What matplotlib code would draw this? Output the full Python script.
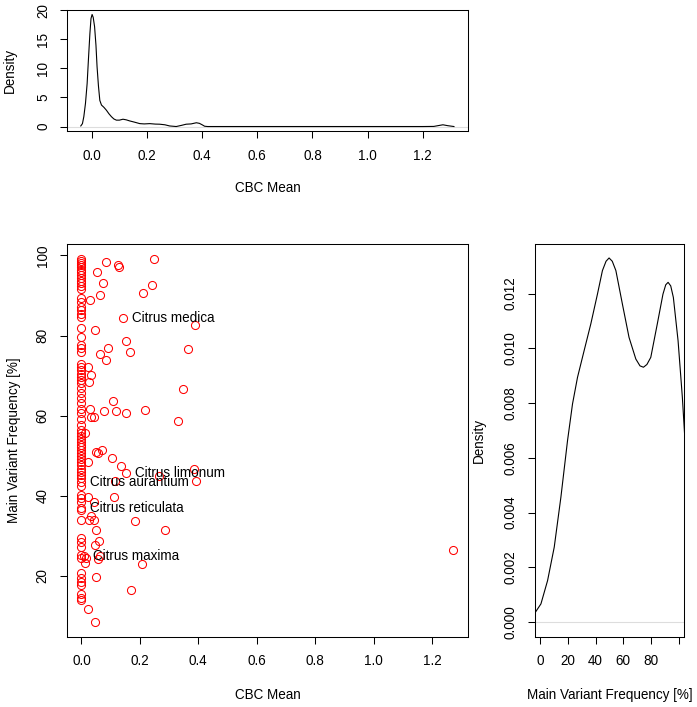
import matplotlib
matplotlib.use("Agg")
import matplotlib.pyplot as plt

plt.rcParams['font.family'] = ['Liberation Sans', 'DejaVu Sans']
plt.rcParams['font.size'] = 9.75

# CBC mean vs main variant frequency
cbc = [0, 0, 0, 0, 0, 0, 0, 0, 0, 0, 0, 0, 0,
       0, 0, 0, 0, 0, 0, 0, 0, 0, 0, 0,
       0, 0, 0, 0, 0, 0, 0, 0, 0, 0, 0, 0, 0, 0,
       0, 0, 0, 0, 0,
       0, 0, 0, 0, 0, 0, 0, 0, 0, 0, 0, 0, 0, 0,
       0, 0, 0, 0, 0, 0, 0, 0, 0, 0, 0, 0, 0, 0, 0, 0, 0,
       0.085, 0.124, 0.127, 0.25, 0.054, 0.074, 0.241, 0.063, 0.21, 0.031,
       0.39, 0.048, 0.154, 0.091, 0.166, 0.365, 0.063, 0.085, 0.022, 0.034,
       0.025, 0.348, 0.108, 0.029, 0.076, 0.119, 0.151, 0.218, 0.332, 0.034,
       0.042, 0.014, 0.051, 0.056, 0.072, 0.103, 0.023, 0.134, 0.266, 0.385,
       0.391, 0.116, 0.023, 0.042, 0.111, 0.033, 0.026, 0.042, 0.185, 0.285,
       0.051, 0.061, 0.045, 0.017, 0.057, 0.063, 0.012, 0.208, 0.051, 0.171,
       0.022, 0.045, 1.273]
mvf = [99.2, 98.7, 98.2, 97.6, 97.0, 96.4, 95.8, 95.1, 94.4, 93.7, 93.0, 92.3, 91.6,
       89.3, 88.3, 87.1, 86.3, 85.5, 84.6, 81.8, 79.7, 77.6, 76.8, 75.9,
       73.0, 72.2, 71.4, 70.5, 69.7, 68.9, 68.1, 66.8, 65.6, 64.3, 63.1, 61.8, 60.6, 59.3,
       57.8, 56.5, 55.7, 55.0, 54.3,
       53.5, 52.8, 52.1, 51.4, 50.7, 50.0, 49.2, 48.4, 47.6, 46.8, 46.0, 45.2, 44.4, 42.5,
       40.2, 39.4, 38.5, 36.5, 34.0, 29.4, 28.6, 27.2, 25.2, 24.4, 20.7, 19.6, 18.6, 17.8, 15.5, 14.6, 14.0,
       98.4, 97.7, 97.1, 99.2, 95.9, 93.2, 92.6, 90.2, 90.5, 88.8,
       82.6, 81.3, 78.7, 77.0, 75.9, 76.6, 75.4, 74.0, 72.2, 70.1,
       68.3, 66.6, 63.7, 61.8, 61.2, 61.1, 60.6, 61.4, 58.7, 59.6,
       59.6, 55.7, 51.0, 50.8, 51.4, 49.4, 48.4, 47.5, 44.9, 46.6,
       43.6, 43.8, 39.6, 38.5, 39.6, 35.0, 34.0, 34.0, 33.8, 31.6,
       31.5, 28.7, 27.7, 24.4, 24.2, 25.0, 23.3, 23.1, 19.8, 16.4,
       11.8, 8.5, 26.5]

species = ["Citrus medica", "Citrus limonum", "Citrus aurantium", "Citrus reticulata", "Citrus maxima"]
species_cbc = [0.143, 0.151, 0.0, 0.0, 0.008]
species_mvf = [84.3, 45.8, 43.4, 36.9, 25.1]

# density of CBC mean (top panel)
dens_cbc_x = [-0.040, -0.034, -0.029, -0.023, -0.017, -0.012, -0.007, -0.003, 0.001, 0.005,
              0.010, 0.015, 0.019, 0.024, 0.029, 0.035, 0.044, 0.053, 0.062,
              0.071, 0.080, 0.089, 0.100, 0.113, 0.125, 0.137, 0.155, 0.174, 0.19, 0.21, 0.23,
              0.246, 0.265, 0.282, 0.306, 0.325, 0.342, 0.36,
              0.379, 0.39, 0.40, 0.409, 0.42, 0.45, 0.6, 0.8, 1.0, 1.2, 1.24, 1.255, 1.273,
              1.29, 1.313]
dens_cbc_y = [0.1, 0.5, 1.7, 4.0, 7.4, 11.8, 16.0, 18.6, 19.3, 18.8,
              17.2, 14.0, 10.3, 7.0, 4.5, 3.7, 3.3, 2.8, 2.2,
              1.7, 1.3, 1.1, 1.1, 1.26, 1.15, 0.97, 0.75, 0.5, 0.45, 0.5, 0.42,
              0.4, 0.3, 0.1, 0.0, 0.2, 0.4, 0.45,
              0.65, 0.55, 0.3, 0.05, 0.0, 0.0, 0.0, 0.0, 0.0, 0.0, 0.02, 0.15, 0.3,
              0.15, 0.0]

# density of main variant frequency (right panel)
dens_mvf_x = [-6.0, -4.3, 0.5, 5.3, 10.1, 14.9, 19.7, 23.3, 26.9, 31.7, 36.5,
              41.3, 44.9, 47.5, 49.7, 52.0, 54.6, 59.3, 64.1, 69.0, 72.0, 74.5, 77.0, 79.8,
              84.5, 88.6, 90.6, 92.3, 94.2, 96.1, 99.5, 102.6, 104.5, 106.0]
dens_mvf_y = [0.0002, 0.000303, 0.000668, 0.00152, 0.00274, 0.00456, 0.00663, 0.00797, 0.00894, 0.00992, 0.01089,
              0.01198, 0.01284, 0.01318, 0.0133, 0.01318, 0.01284, 0.01162, 0.0104, 0.00961, 0.00936, 0.00931, 0.00941, 0.00967,
              0.01089, 0.01198, 0.01232, 0.01241, 0.01228, 0.01186, 0.01028, 0.00821, 0.00663, 0.0055]

fig = plt.figure(figsize=(6.97, 7.07), dpi=100)
W, H = 697.0, 707.0


def axes_px(l, t, r, b):
    return fig.add_axes([l / W, 1 - b / H, (r - l) / W, (b - t) / H])


def r_style(ax):
    for s in ax.spines.values():
        s.set_linewidth(0.75)
    ax.tick_params(direction='out', length=5.2, width=0.75)
    ax.tick_params(axis='x', pad=7.5)
    ax.tick_params(axis='y', labelrotation=90, pad=7)
    for lab in ax.get_yticklabels():
        lab.set_va('center')


ax1 = axes_px(67, 10, 468.3, 131)
ax1.plot(dens_cbc_x, dens_cbc_y, color='black', lw=0.8)
ax1.axhline(0, color='#dddddd', lw=0.8, zorder=0)
ax1.set_xlim(-0.09, 1.365)
ax1.set_ylim(-0.77, 20.07)
ax1.set_xticks([0, 0.2, 0.4, 0.6, 0.8, 1.0, 1.2])
ax1.set_xticklabels(['0.0', '0.2', '0.4', '0.6', '0.8', '1.0', '1.2'])
ax1.set_yticks([0, 5, 10, 15, 20])
ax1.set_xlabel('CBC Mean')
ax1.set_ylabel('Density')
r_style(ax1)
ax1.xaxis.set_label_coords(0.5, -0.413)
ax1.yaxis.set_label_coords(-0.125, 0.5)

ax2 = axes_px(66.5, 244, 468.3, 636.7)
ax2.plot(cbc + species_cbc, mvf + species_mvf, 'o', mfc='none', mec='red', ms=5.8, mew=0.75)
for name, xv, yv in zip(species, species_cbc, species_mvf):
    ax2.annotate(name, (xv, yv), xytext=(6.5, 0), textcoords='offset points',
                 ha='left', va='center')
ax2.set_xlim(-0.051, 1.324)
ax2.set_ylim(4.86, 102.85)
ax2.set_xticks([0, 0.2, 0.4, 0.6, 0.8, 1.0, 1.2])
ax2.set_xticklabels(['0.0', '0.2', '0.4', '0.6', '0.8', '1.0', '1.2'])
ax2.set_yticks([20, 40, 60, 80, 100])
ax2.set_xlabel('CBC Mean')
ax2.set_ylabel('Main Variant Frequency [%]')
r_style(ax2)
ax2.xaxis.set_label_coords(0.5, -0.1306)
ax2.yaxis.set_label_coords(-0.113, 0.5)

ax3 = axes_px(534.7, 244, 684.3, 636.7)
ax3.plot(dens_mvf_x, dens_mvf_y, color='black', lw=0.8)
ax3.axhline(0, color='#dddddd', lw=0.8, zorder=0)
ax3.set_xlim(-4, 104)
ax3.set_ylim(-0.00053, 0.01381)
ax3.set_xticks([0, 20, 40, 60, 80, 100])
ax3.set_xticklabels(['0', '20', '40', '60', '80', ''])
ax3.set_yticks([0, 0.002, 0.004, 0.006, 0.008, 0.010, 0.012])
ax3.set_yticklabels(['0.000', '0.002', '0.004', '0.006', '0.008', '0.010', '0.012'])
ax3.set_xlabel('Main Variant Frequency [%]')
ax3.set_ylabel('Density')
r_style(ax3)
ax3.xaxis.set_label_coords(0.5, -0.1306)
ax3.yaxis.set_label_coords(-0.329, 0.5)

fig.savefig('out.png', dpi=100)
